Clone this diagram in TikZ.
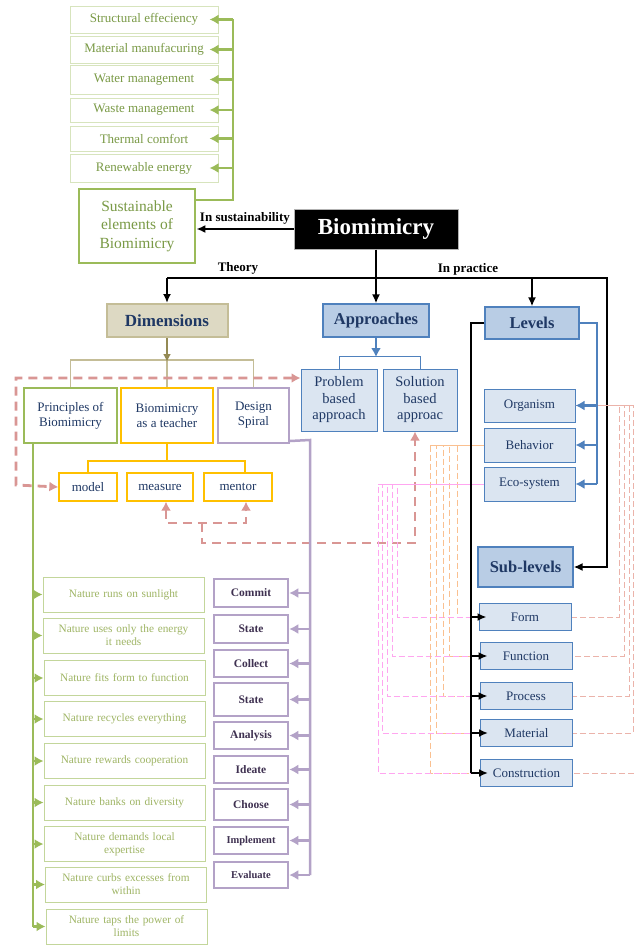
\documentclass[tikz,border=0pt]{standalone}
\usepackage{fontspec}
\setmainfont{Liberation Serif}
\usetikzlibrary{arrows.meta}
\definecolor{gbord}{HTML}{D7E4BD}
\definecolor{gtext}{HTML}{7A9A46}
\definecolor{gline}{HTML}{9BBB59}
\definecolor{ntext}{HTML}{9FB565}
\definecolor{nbord}{HTML}{C3D69B}
\definecolor{dblue}{HTML}{1F3864}
\definecolor{bfill}{HTML}{B9CDE5}
\definecolor{lfill}{HTML}{DBE5F1}
\definecolor{bbord}{HTML}{4F81BD}
\definecolor{dfill}{HTML}{DDD9C3}
\definecolor{dbord}{HTML}{C4BD97}
\definecolor{olivearr}{HTML}{948A54}
\definecolor{gold}{HTML}{FFC000}
\definecolor{lilac}{HTML}{B3A2C7}
\definecolor{ptext}{HTML}{3F3151}
\definecolor{reddash}{HTML}{D99694}
\definecolor{salm}{HTML}{EBB3AA}
\definecolor{orng}{HTML}{FAC090}
\definecolor{pnk}{HTML}{FFA6F0}
\tikzset{
  box/.style={rectangle, inner sep=0pt, align=center},
  topitem/.style={box, draw=gbord, line width=1pt, text=gtext, font=\fontsize{13}{15}\selectfont, minimum width=148pt},
  natitem/.style={box, draw=nbord, line width=1pt, text=ntext, font=\fontsize{11.3}{13}\selectfont, minimum width=161pt, minimum height=35pt, text width=155pt},
  stepbox/.style={box, draw=lilac, line width=2.5pt, text=ptext, font=\bfseries\fontsize{11.5}{13}\selectfont, minimum width=74pt},
  lvbox/.style={box, draw=bbord, line width=1pt, fill=lfill, text=dblue, font=\fontsize{13}{15}\selectfont, minimum width=91pt},
  subbox/.style={box, draw=bbord, line width=1pt, fill=lfill, text=dblue, font=\fontsize{13}{15}\selectfont, minimum width=92pt, minimum height=27pt},
  headbox/.style={box, draw=bbord, line width=1.2pt, fill=bfill, text=dblue, font=\bfseries\fontsize{16.5}{19}\selectfont},
  dimchild/.style={box, text=dblue, font=\fontsize{13}{15}\selectfont, minimum height=55pt},
  teachchild/.style={box, draw=gold, line width=1.3pt, text=dblue, font=\fontsize{13}{15}\selectfont, minimum height=28pt},
  blk/.style={draw=black, line width=1.8pt},
  blkarr/.style={blk, -{Latex[length=9pt,width=8pt]}},
  greenarr/.style={draw=gline, line width=2.5pt, -{Latex[length=9pt,width=10pt]}},
  bluearr/.style={draw=bbord, line width=2.5pt, -{Latex[length=9pt,width=10pt]}},
  lilacarr/.style={draw=lilac, line width=2.5pt, -{Latex[length=9pt,width=10pt]}},
  rdash/.style={draw=reddash, line width=2.8pt, dash pattern=on 9pt off 6pt},
  rdarr/.style={rdash, {Latex[length=9pt,width=10pt]}-{Latex[length=9pt,width=10pt]}},
  thin dash/.style={line width=0.9pt, dash pattern=on 6pt off 3pt},
  lbl/.style={font=\bfseries\fontsize{13}{15}\selectfont, inner sep=1pt}
}
\begin{document}
\begin{tikzpicture}[x=1pt,y=-1pt]
\useasboundingbox (0,0) rectangle (634,945);
\fill[white] (0,0) rectangle (634,945);

% ---------- top list ----------
\node[topitem, minimum height=27pt] (s1) at (144,19.5) {Structural effeciency};
\node[topitem, minimum height=27pt] (s2) at (144,49.5) {Material manufacuring};
\node[topitem, minimum height=29pt] (s3) at (144,79.5) {Water management};
\node[topitem, minimum height=24pt] (s4) at (144,110) {Waste management};
\node[topitem, minimum height=25pt] (s5) at (144,138.5) {Thermal comfort};
\node[topitem, minimum height=28pt] (s6) at (144,168) {Renewable energy};
\node[box, draw=gline, line width=2.8pt, text=gtext, font=\fontsize{15.5}{18.5}\selectfont, minimum width=116pt, minimum height=74pt] (sust) at (137,226) {Sustainable\\elements of\\Biomimicry};
\coordinate (gtop) at (233,20);
\coordinate (gbot) at (233,200);
\draw[draw=gline, line width=2.5pt] (sust.east |- gbot) -- (gbot) -- (gtop) -- (gtop -| s1.east);
\foreach \n in {s1,s2,s3,s4,s5,s6}{
  \draw[greenarr, shorten >=-9pt] (gtop |- \n.east) -- (\n.east);
}

% ---------- Biomimicry ----------
\node[box, fill=black, draw=gray!60, line width=1pt, text=white, font=\bfseries\fontsize{23}{25}\selectfont, minimum width=164pt, minimum height=40pt] (bio) at (376,229) {Biomimicry};
\draw[blkarr] (bio.west) -- (bio.west -| sust.east) node[midway, above=3pt, lbl, text=black] {In sustainability};

% ---------- heads ----------
\node[box, draw=dbord, line width=2pt, fill=dfill, text=dblue, font=\bfseries\fontsize{17}{19}\selectfont, minimum width=121pt, minimum height=33pt] (dim) at (167,320.5) {Dimensions};
\node[headbox, minimum width=106pt, minimum height=33pt] (appr) at (376,320.5) {Approaches};
\node[headbox, minimum width=94pt, minimum height=32pt] (lev) at (532,323) {Levels};
\node[headbox, minimum width=95pt, minimum height=40pt] (subl) at (525.5,567) {Sub-levels};

\coordinate (hl) at (167,278);
\coordinate (hr) at (607,278);
\draw[blkarr] (bio.south -| appr) -- (appr.north);
\draw[blkarr] (hl -| lev.north) -- (lev.north);
\draw[blkarr] (dim.north |- hl) -- (hr) -- (hr |- subl.east) -- (subl.east);
\draw[blkarr] (hl) -- (dim.north);
\node[lbl, anchor=south] (theory) at (238,276) {Theory};
\node[lbl, anchor=south] (prac) at (468,276) {In practice};

% ---------- approaches children ----------
\node[lvbox, minimum width=76pt, minimum height=62pt, font=\fontsize{14.5}{16.5}\selectfont] (prob) at (339,400) {Problem\\based\\approach};
\node[lvbox, minimum width=74pt, minimum height=62pt, font=\fontsize{14.5}{16.5}\selectfont] (sol) at (420,400) {Solution\\based\\approac};
\draw[draw=bbord, line width=1pt] (prob.north) -- (prob.north |- 0,356) -- (sol.north |- 0,356) -- (sol.north);
\draw[bluearr, line width=2pt] (appr.south) -- (appr.south |- 0,357);

% ---------- dimension children ----------
\node[dimchild, draw=gline, line width=2pt, minimum width=93pt] (prin) at (70.5,415.5) {Principles of\\Biomimicry};
\node[dimchild, draw=gold, line width=2.5pt, minimum width=92pt] (teach) at (167,415.5) {Biomimicry\\as a teacher};
\node[dimchild, draw=lilac, line width=2pt, minimum width=71pt] (spiral) at (253.5,415.5) {Design\\Spiral};
\draw[draw=dbord, line width=1.2pt] (prin.north) -- (prin.north |- 0,360) -- (spiral.north |- 0,360) -- (spiral.north);
\draw[draw=dbord, line width=1.2pt] (teach.north) -- (teach.north |- 0,360);
\draw[draw=olivearr, line width=2pt, -{Latex[length=8pt,width=8pt]}] (dim.south) -- (dim.south |- 0,362);

\node[teachchild, minimum width=58pt] (model) at (88,487) {model};
\node[teachchild, minimum width=66pt] (meas) at (160,487) {measure};
\node[teachchild, minimum width=68pt] (ment) at (238,487) {mentor};
\draw[draw=gold, line width=1.3pt] (teach.south) -- (teach.south |- 0,461);
\draw[draw=gold, line width=1.3pt] (model.north) -- (model.north |- 0,461) -- ([xshift=7pt]ment.north |- 0,461) -- ([xshift=7pt]ment.north);

% ---------- red dashed ----------
\draw[rdarr] ([yshift=22pt]prob.west) -- (16,378) -- (16,485) -- (model.west);
\draw[rdarr] ([xshift=6pt]meas.south) -- (166,523) -- (246,523) -- ([xshift=8pt]ment.south);
\draw[rdash, -{Latex[length=9pt,width=10pt]}] (202,523) -- (202,543) -- (415,543) -- ([xshift=-5pt]sol.south);

% ---------- design spiral steps ----------
\node[stepbox, minimum height=28pt] (c1) at (251,593) {Commit};
\node[stepbox, minimum height=28pt] (c2) at (251,629) {State};
\node[stepbox, minimum height=27pt] (c3) at (251,663.5) {Collect};
\node[stepbox, minimum height=33pt] (c4) at (251,699.5) {State};
\node[stepbox, minimum height=27pt] (c5) at (251,735.5) {Analysis};
\node[stepbox, minimum height=27pt] (c6) at (251,769.5) {Ideate};
\node[stepbox, minimum height=31pt] (c7) at (251,804.5) {Choose};
\node[stepbox, minimum height=27pt, font=\bfseries\fontsize{10.5}{12}\selectfont] (c8) at (251,840.5) {Implement};
\node[stepbox, minimum height=26pt, font=\bfseries\fontsize{10.5}{12}\selectfont] (c9) at (251,875) {Evaluate};
\coordinate (lv) at (310,440);
\draw[draw=lilac, line width=2.5pt] ([yshift=3pt]spiral.south east) -- (lv) -- (lv |- c9.east);
\foreach \n in {c1,c2,c3,c4,c5,c6,c7,c8,c9}{
  \draw[lilacarr] (lv |- \n.east) -- (\n.east);
}

% ---------- principles ----------
\node[natitem] (n1) at (123.5,594.5) {Nature runs on sunlight};
\node[natitem] (n2) at (123.5,635.5) {Nature uses only the energy\\it needs};
\node[natitem] (n3) at (124.5,678) {Nature fits form to function};
\node[natitem] (n4) at (124.5,719) {Nature recycles everything};
\node[natitem] (n5) at (124.5,761) {Nature rewards cooperation};
\node[natitem] (n6) at (124.5,802.5) {Nature banks on diversity};
\node[natitem] (n7) at (124.5,844) {Nature demands local\\expertise};
\node[natitem] (n8) at (126,884.5) {Nature curbs excesses from\\within};
\node[natitem] (n9) at (126.5,926.5) {Nature taps the power of\\limits};
\coordinate (gl) at (33,443);
\draw[draw=gline, line width=2.5pt] (prin.south -| gl) -- (gl |- n9.west);
\foreach \n in {n1,n2,n3,n4,n5,n6,n7,n8,n9}{
  \draw[greenarr] (gl |- \n.west) -- (\n.west);
}

% ---------- levels ----------
\node[lvbox, minimum height=33pt] (org) at (529.5,405.5) {Organism};
\node[lvbox, minimum height=34pt] (beh) at (529.5,445) {Behavior};
\node[lvbox, minimum height=34pt] (eco) at (529.5,484) {Eco-system};

\node[subbox] (fo) at (525,617) {Form};
\node[subbox] (fu) at (526,656) {Function};
\node[subbox] (pr) at (526,696) {Process};
\node[subbox] (ma) at (526.5,733) {Material};
\node[subbox] (co) at (526.5,773) {Construction};

% thin dashed links
\foreach \n/\xs/\xo/\xp in {fo/619/457/397, fu/624/449/392, pr/629/443/387, ma/633/436/382, co/637/430/378}{
  \draw[thin dash, draw=salm] (org.east) -- (\xs,405.5) -- (\xs,0 |- \n.east) -- (\n.east);
  \draw[thin dash, draw=orng] (beh.west) -- (\xo,445) -- (\xo,0 |- \n.west) -- (\n.west);
  \draw[thin dash, draw=pnk] (eco.west) -- (\xp,484) -- (\xp,0 |- \n.west) -- (\n.west);
}
\draw[draw=orng, line width=0.9pt] (beh.west) -- (430,445);
\draw[draw=pnk, line width=0.9pt] (eco.west) -- (378,484);
\draw[draw=salm, line width=0.9pt] (org.east) -- (634,405.5);

% blue level links
\coordinate (br) at (597,323);
\draw[draw=bbord, line width=2.5pt] (lev.east) -- (br) -- (br |- eco.east);
\foreach \n in {org,beh}{
  \draw[bluearr] (br |- \n.east) -- (\n.east);
}
\draw[bluearr] (br |- eco.east) -- (eco.east);

% black sub-level links
\coordinate (bl) at (471,323);
\draw[blk] (lev.west) -- (bl) -- (bl |- co.west);
\foreach \n in {fo,fu,pr,ma,co}{
  \draw[blkarr, shorten >=-8pt] (bl |- \n.west) -- (\n.west);
}
\end{tikzpicture}
\end{document}
